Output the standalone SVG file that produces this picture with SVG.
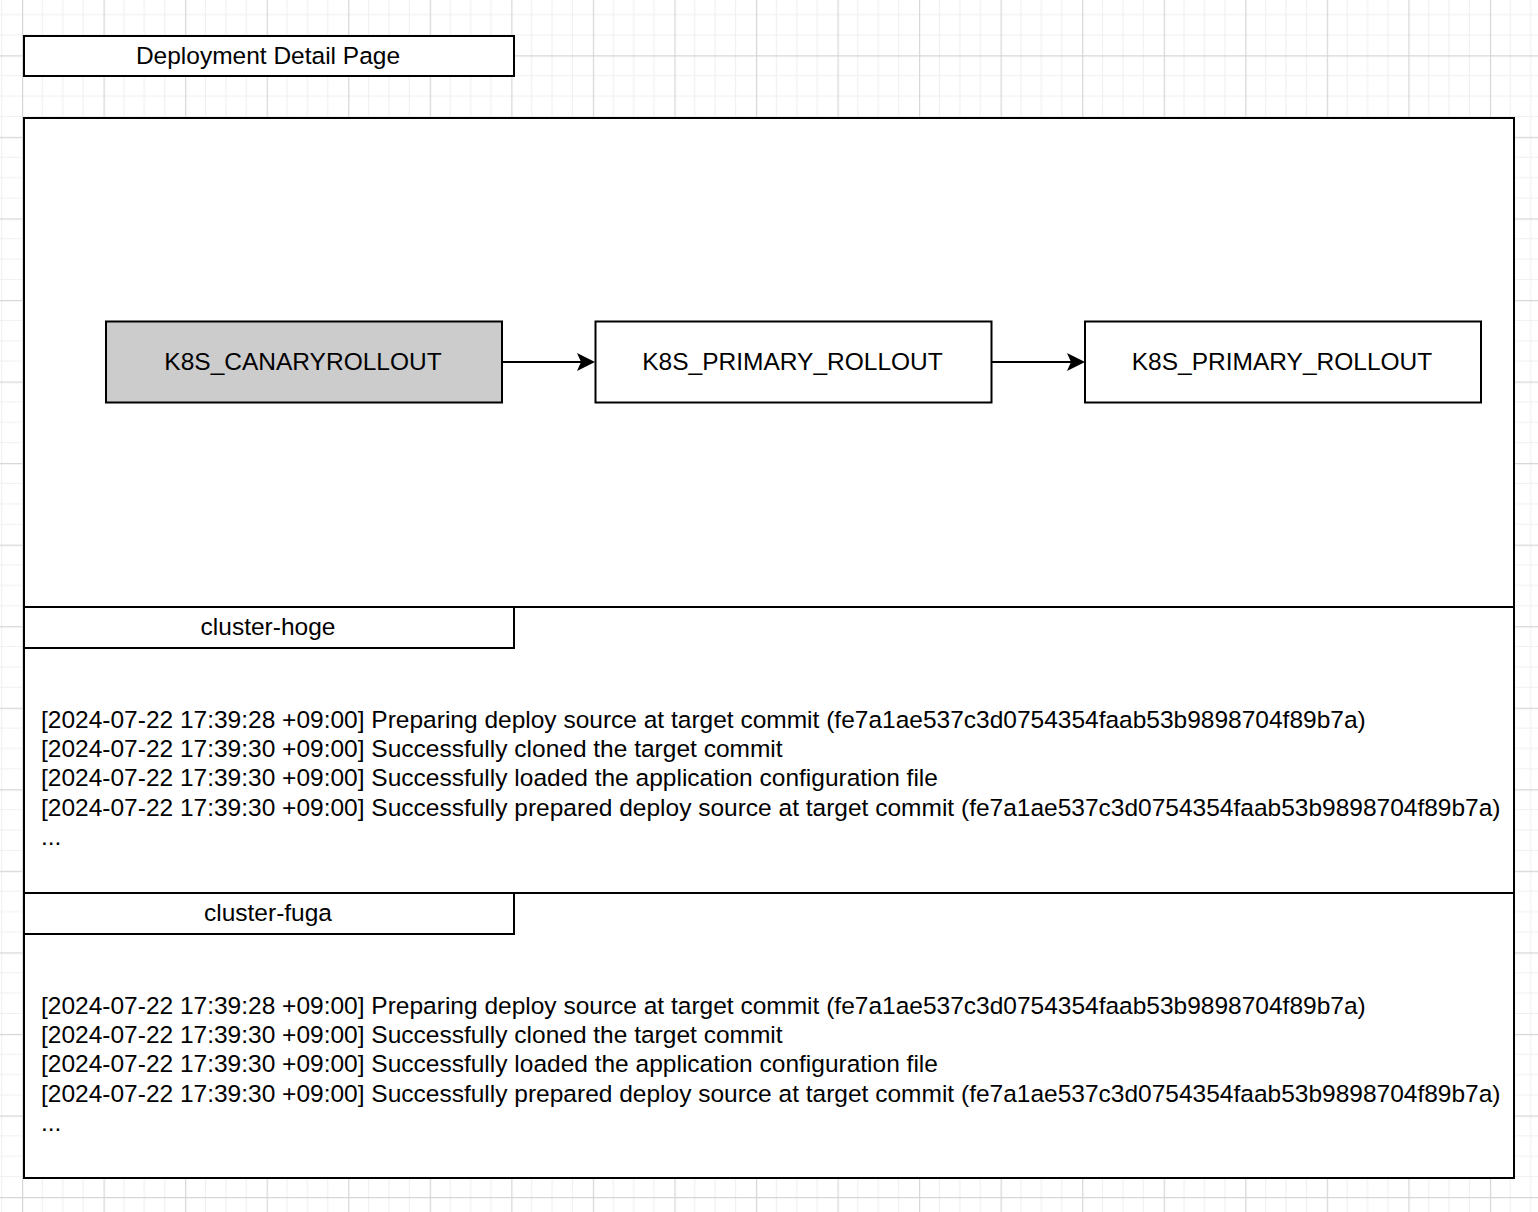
<svg xmlns="http://www.w3.org/2000/svg" width="1538" height="1212" viewBox="0 0 1538 1212">
<defs>
<pattern id="grid" patternUnits="userSpaceOnUse" x="22" y="55.3" width="81.55" height="81.55">
<path d="M20.39 0V81.55M40.78 0V81.55M61.16 0V81.55M0 20.39H81.55M0 40.78H81.55M0 61.16H81.55" stroke="#f0f0f0" stroke-width="1.2" fill="none"/>
<path d="M0.6 0V81.55M0 0.6H81.55" stroke="#d6d6d6" stroke-width="1.2" fill="none"/>
</pattern>
</defs>
<style>
.box{fill:#fff;stroke:#000;stroke-width:2}
.grey{fill:#cccccc;stroke:#000;stroke-width:2}
.t{font-family:"Liberation Sans",Arial,Helvetica,sans-serif;font-size:24.5px;fill:#000}
.c{text-anchor:middle}
.edge{stroke:#000;stroke-width:2;fill:none}
</style>
<rect x="0" y="0" width="1538" height="1212" fill="#fff"/>
<rect x="0" y="0" width="1538" height="1212" fill="url(#grid)"/>

<g id="title">
<rect class="box" x="24" y="36" width="490" height="40"/>
<text class="t c" x="268" y="63.8">Deployment Detail Page</text>
</g>

<g id="page">
<rect class="box" x="24" y="118" width="1490" height="1060"/>
<line x1="24" y1="607" x2="1514" y2="607" stroke="#000" stroke-width="2"/>
<line x1="24" y1="893" x2="1514" y2="893" stroke="#000" stroke-width="2"/>
</g>

<g id="node-canary">
<rect class="grey" x="106" y="321.5" width="396" height="81"/>
<text class="t c" x="303" y="369.8">K8S_CANARYROLLOUT</text>
</g>
<g id="node-primary-1">
<rect class="box" x="595.5" y="321.5" width="396" height="81"/>
<text class="t c" x="792.5" y="369.8">K8S_PRIMARY_ROLLOUT</text>
</g>
<g id="node-primary-2">
<rect class="box" x="1085" y="321.5" width="396" height="81"/>
<text class="t c" x="1282" y="369.8">K8S_PRIMARY_ROLLOUT</text>
</g>

<g id="connectors">
<line class="edge" x1="502" y1="362" x2="590" y2="362"/>
<path d="M577,353 L595,362 L577,371 L581,362 Z" fill="#000"/>
<line class="edge" x1="991.5" y1="362" x2="1080" y2="362"/>
<path d="M1067,353 L1085,362 L1067,371 L1071,362 Z" fill="#000"/>
</g>

<g id="cluster-hoge">
<rect class="box" x="24" y="607" width="490" height="41"/>
<text class="t c" x="268" y="634.8">cluster-hoge</text>
<text class="t" x="41" y="727.6">[2024-07-22 17:39:28 +09:00] Preparing deploy source at target commit (fe7a1ae537c3d0754354faab53b9898704f89b7a)</text>
<text class="t" x="41" y="756.9">[2024-07-22 17:39:30 +09:00] Successfully cloned the target commit</text>
<text class="t" x="41" y="786.2">[2024-07-22 17:39:30 +09:00] Successfully loaded the application configuration file</text>
<text class="t" x="41" y="815.5">[2024-07-22 17:39:30 +09:00] Successfully prepared deploy source at target commit (fe7a1ae537c3d0754354faab53b9898704f89b7a)</text>
<text class="t" x="41" y="844.8">...</text>
</g>

<g id="cluster-fuga">
<rect class="box" x="24" y="893" width="490" height="41"/>
<text class="t c" x="268" y="920.8">cluster-fuga</text>
<text class="t" x="41" y="1013.6">[2024-07-22 17:39:28 +09:00] Preparing deploy source at target commit (fe7a1ae537c3d0754354faab53b9898704f89b7a)</text>
<text class="t" x="41" y="1042.9">[2024-07-22 17:39:30 +09:00] Successfully cloned the target commit</text>
<text class="t" x="41" y="1072.2">[2024-07-22 17:39:30 +09:00] Successfully loaded the application configuration file</text>
<text class="t" x="41" y="1101.5">[2024-07-22 17:39:30 +09:00] Successfully prepared deploy source at target commit (fe7a1ae537c3d0754354faab53b9898704f89b7a)</text>
<text class="t" x="41" y="1130.8">...</text>
</g>
</svg>
